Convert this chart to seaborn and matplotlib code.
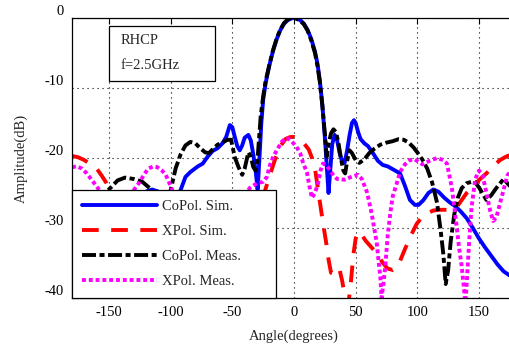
import numpy as np
import pandas as pd
import matplotlib
matplotlib.use("Agg")
import matplotlib.pyplot as plt
import seaborn as sns
from matplotlib.patches import Rectangle

# ---------------- data ----------------
copol_sim_ang = [-180, -170, -160, -150, -140, -130, -120, -115, -110, -105, -100, -96, -92, -88, -84,
                 -78, -74, -70, -66, -62, -58, -55, -52, -50, -48, -46, -44, -42, -40, -37, -35, -33,
                 -31, -29.5, -28, -26.5, -25, -23, -20, -17, -14, -11, -8, -5, -2, 0, 2, 5, 8, 11, 14,
                 17, 19, 21, 23, 25, 26.5, 28, 29.5, 31, 33, 35, 37, 39, 41, 43, 45, 47, 48.6, 50, 52,
                 54, 57, 60, 64, 68, 72, 76, 80, 86, 90, 94, 98, 101, 105, 109, 113, 117, 122, 126, 130,
                 135, 140, 145, 150, 155, 160, 165, 170, 175, 180]
copol_sim = [-30, -31, -29, -27, -26, -25.5, -24.8, -24.5, -24.8, -26, -27, -26, -24.6, -22.7, -22,
             -21.2, -20.8, -19.8, -19, -18.6, -17.9, -17, -15.3, -15.6, -17, -18.3, -18.9, -18.2, -17.1,
             -16.7, -17.5, -19.5, -22, -24.5, -20, -15, -11.7, -9.3, -6.8, -4.7, -3, -1.7, -0.8, -0.3,
             -0.05, 0, -0.05, -0.3, -0.8, -1.7, -3, -4.8, -6.5, -9, -12.5, -17, -21, -25, -21.5, -18,
             -16.7, -17.5, -19.3, -20.5, -20.7, -19, -16.8, -15, -14.6, -15, -16.3, -17.3, -17.9, -18.3,
             -19.3, -20.4, -21, -21.2, -21.6, -22.2, -24, -26, -26.7, -26.7, -26, -25, -24.5, -24.8,
             -25.7, -26.3, -26.8, -27.6, -28.6, -30, -31.5, -32.8, -34, -35.2, -36.2, -36.8, -37]

xpol_sim_ang = [-180, -175, -170, -165, -160, -156, -152, -148, -140, -130, -120, -110, -100, -90, -80,
                -70, -60, -50, -40, -30, -25, -20, -15, -11, -7, -3, 0, 4, 8, 12, 15, 17, 19.5, 22, 24,
                26, 28, 30, 32, 35, 37, 39, 42, 44, 46, 48, 50, 52.5, 55, 58, 64, 68, 72, 76, 80, 83, 86,
                90, 95, 99.5, 104, 108, 113, 118, 126, 132, 136, 140, 145, 151, 156, 162, 167, 172, 175, 180]
xpol_sim = [-19.7, -19.9, -20.3, -20.9, -21.5, -22.5, -23.6, -25, -28, -31, -29, -27, -28, -31, -35,
            -32, -29, -30, -33, -28, -25.5, -22.7, -20, -18.3, -17.3, -17, -17, -17.3, -17.9, -18.8,
            -20.2, -21.5, -24.5, -27.5, -29.8, -32, -34.5, -36.4, -36.5, -35.7, -36, -37.5, -40.5, -41,
            -38, -34, -31.5, -30.5, -31, -31.8, -33, -33.8, -35, -35.8, -36, -35.7, -34.7, -33, -31,
            -29.4, -28.4, -27.9, -27.5, -27.4, -27.4, -27, -26, -25, -24, -23, -22.2, -21.1, -20.3,
            -19.8, -19.6, -19.5]

copol_meas_ang = [-180, -170, -160, -153, -149, -143, -137, -130, -123, -117, -112, -106, -102, -100, -96,
                  -92, -88, -84, -80, -76, -72, -69, -65, -62, -58, -54, -51, -48, -45, -42, -40, -37, -35,
                  -33, -31, -29.5, -27, -25, -23, -20, -17, -14, -11, -8, -5, -2, 0, 2, 5, 8, 11, 14, 17,
                  19, 21, 23, 25, 26.5, 28, 30, 32, 34, 36, 38, 40, 41.5, 43, 45, 47, 50, 53, 57, 61, 65,
                  70, 75, 80, 85, 89, 93, 97, 100, 104, 108, 112, 116, 119, 121, 123, 125, 127, 130, 133,
                  136, 140, 146, 150, 156, 160, 164, 170, 175, 180]
copol_meas = [-28, -27, -26, -25, -24.3, -23.2, -22.8, -23, -23.4, -24.3, -26, -27.5, -26.5, -24.6, -21.5,
              -19.5, -18.2, -17.7, -17.9, -18.6, -19.2, -19.3, -18.6, -18.1, -17.8, -17.4, -17.4, -19.9,
              -21.3, -22.4, -21.5, -19.2, -19.8, -21.3, -21.8, -20, -14, -11.2, -9, -6.7, -4.6, -2.9,
              -1.6, -0.7, -0.2, 0, 0, -0.1, -0.4, -0.9, -1.8, -3.2, -5, -6.8, -9.2, -12.5, -16.5, -19.8,
              -18, -16.5, -15.9, -16.3, -17.8, -20, -21.8, -22.2, -20.5, -18.9, -19.3, -20.3, -20.7, -20.2,
              -19.3, -18.7, -18.1, -17.8, -17.6, -17.3, -17.4, -17.8, -18.5, -19.2, -20.2, -21.5, -23.5,
              -26.4, -30.5, -33.6, -38, -36, -32, -28, -25.6, -24.3, -23.6, -23.3, -24.2, -26, -25.3,
              -24.3, -23, -24, -24.8]

xpol_meas_ang = [-180, -176, -172, -168, -165, -162, -159, -155, -150, -145, -140, -135, -130, -125, -121,
                 -118, -114, -111, -107, -104, -100, -96, -90, -80, -70, -60, -50, -42, -36, -30, -25, -22,
                 -19.5, -17, -14, -10, -7, -5, -2, 2, 5, 7, 10.5, 12.5, 14.5, 17, 19.5, 21.5, 23.5, 26, 29,
                 32, 35, 41, 45, 48, 52, 55, 59, 61, 63, 65, 67, 68.5, 70, 71, 72.5, 74, 76, 78, 80, 83, 86,
                 90, 94, 98, 104, 110, 116, 121, 124, 126, 128, 130, 132, 134, 136, 138, 139, 140, 142, 144,
                 147, 150, 153, 156, 159, 161.5, 164, 167, 170, 173, 176, 180]
xpol_meas = [-21.3, -21.2, -21.5, -22.2, -22.9, -23.6, -24.3, -25.5, -27.5, -29, -28, -26, -24.6, -23.4,
             -22.2, -21.5, -21.2, -21.3, -21.8, -22.4, -24, -26, -29, -32, -30, -28, -27.5, -26, -24.3,
             -23.6, -23.4, -22.7, -21, -19.9, -18.9, -17.7, -17.2, -17.2, -17.6, -18.4, -19.3, -20.5,
             -22.1, -24, -25.7, -25, -23.6, -21.8, -20.8, -21, -21.7, -22.5, -23, -23.1, -22.8, -22.6,
             -22.4, -23, -24.8, -26.3, -28, -30, -32, -34.6, -37, -40, -38, -35.5, -31, -28, -25.5,
             -23.8, -22, -20.9, -20.3, -20.2, -20.9, -20.4, -20, -20.3, -20.8, -22.5, -24.3, -27, -30,
             -33, -35.5, -39, -41, -38, -32, -27, -23, -21.8, -22.5, -25, -27.5, -29, -28.5, -26.5,
             -24.5, -22.5, -21.8, -21.5]

labels = ["CoPol. Sim.", "XPol. Sim.", "CoPol. Meas.", "XPol. Meas."]
x_ticks = [-150, -100, -50, 0, 50, 100, 150]
y_ticks = [0, -10, -20, -30, -40]

# ---------------- style ----------------
sns.set_style("white")
plt.rcParams["font.family"] = ["Liberation Serif", "DejaVu Serif"]
plt.rcParams["font.size"] = 10.5

fig = plt.figure(figsize=(5.10, 3.47), dpi=100)
ax = fig.add_axes([72 / 510, 49 / 347, 444 / 510, 280 / 347])

lw = 2.8
series = [
    (copol_sim_ang, copol_sim, "#0000ff", "-"),
    (xpol_sim_ang, xpol_sim, "#ff0000", (0, (4.3, 3.2))),
    (copol_meas_ang, copol_meas, "#000000", (0, (3.6, 0.9, 1.3, 0.9))),
    (xpol_meas_ang, xpol_meas, "#ff00ff", (0, (1.0, 0.75))),
]
for (xa, ya, col, ls), lab in zip(series, labels):
    df = pd.DataFrame({"angle": xa, "amp": ya})
    sns.lineplot(data=df, x="angle", y="amp", ax=ax, color=col, linewidth=lw,
                 linestyle=ls, estimator=None, sort=False, label=lab)

ax.set_xlim(-180, 180)
ax.set_ylim(-40, 0)
ax.set_xticks(x_ticks)
ax.set_yticks(y_ticks)
ax.set_xticklabels([str(v) for v in x_ticks])
ax.set_yticklabels([str(v) for v in y_ticks])
for lbl in ax.get_yticklabels():
    lbl.set_verticalalignment("bottom")
ax.tick_params(direction="in", length=4, width=0.8, top=True, right=True,
               labelsize=10.5, colors="black", pad=6)
ax.grid(True, color="black", linestyle=(0, (1, 3.5)), linewidth=0.8)
for sp in ax.spines.values():
    sp.set_color("black")
    sp.set_linewidth(0.9)

ax.set_xlabel("Angle(degrees)", fontsize=10.5, labelpad=7)
ax.set_ylabel("Amplitude(dB)", fontsize=10.5, labelpad=12)

# annotation box
ax.add_patch(Rectangle((0.0833, 0.775), 0.239, 0.196, transform=ax.transAxes,
                       fill=True, facecolor="white", edgecolor="black", linewidth=0.9, zorder=5))
ax.text(0.110, 0.921, "RHCP", transform=ax.transAxes, va="center", ha="left", fontsize=10.5, zorder=6)
ax.text(0.110, 0.832, "f=2.5GHz", transform=ax.transAxes, va="center", ha="left", fontsize=10.5, zorder=6)

leg = ax.legend(loc="lower left", bbox_to_anchor=(0, 0, 204 / 444, 0.38), mode="expand",
                borderaxespad=0, fancybox=False, framealpha=1, edgecolor="black",
                fontsize=10.5, handlelength=5.1, handletextpad=0.35, labelspacing=0.8,
                borderpad=0.7)
leg.get_frame().set_linewidth(0.9)
leg.set_zorder(10)

fig.savefig("out.png", dpi=100)
